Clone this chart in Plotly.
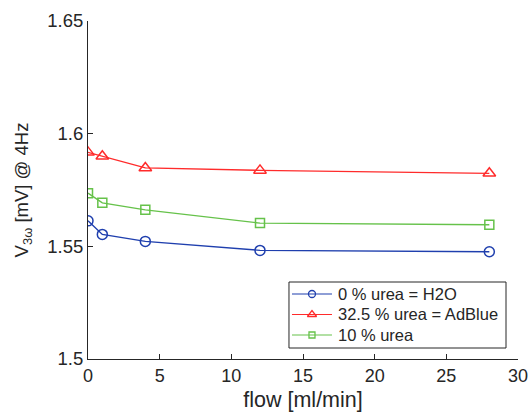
import plotly.graph_objects as go

# Flow rate [ml/min]
flow = [0, 1, 4, 12, 28]

# Third-harmonic voltage V_3ω [mV] at 4 Hz for each fluid
v_h2o = [1.5613, 1.5553, 1.5522, 1.5482, 1.5476]
v_adblue = [1.5917, 1.5900, 1.5848, 1.5837, 1.5824]
v_urea10 = [1.5736, 1.5693, 1.5662, 1.5603, 1.5596]

series_names = ["0 % urea = H2O", "32.5 % urea = AdBlue", "10 % urea"]
colors = ["#1f3fae", "#ff2b2b", "#66c24a"]
symbols = ["circle-open", "triangle-up-open", "square-open"]
values = [v_h2o, v_adblue, v_urea10]
marker_sizes = [10, 11, 9]
legend_marker_sizes = [7, 8, 6]

axis_col = "#262626"

fig = go.Figure()
for name, col, sym, vals, ms in zip(series_names, colors, symbols, values, marker_sizes):
    fig.add_trace(go.Scatter(
        x=flow, y=vals, mode="lines+markers", name=name, showlegend=False,
        line=dict(color=col, width=1.4),
        marker=dict(symbol=sym, size=ms, color=col, line=dict(width=1.5, color=col)),
    ))

# Boxed legend in the lower right of the plot area (plot-fraction coordinates)
box_x0, box_x1, box_y0, box_y1 = 0.4674, 0.9721, 0.0325, 0.2278
row_y = [0.1923, 0.1317, 0.0710]
line_x0, line_x1, glyph_x, text_x = 0.4744, 0.5674, 0.5209, 0.5767

fig.add_shape(type="rect", xref="paper", yref="paper",
              x0=box_x0, x1=box_x1, y0=box_y0, y1=box_y1,
              line=dict(color=axis_col, width=1), fillcolor="white", layer="below")
for name, col, sym, ly, lms in zip(series_names, colors, symbols, row_y, legend_marker_sizes):
    fig.add_shape(type="line", xref="paper", yref="paper",
                  x0=line_x0, x1=line_x1, y0=ly, y1=ly,
                  line=dict(color=col, width=1.2), layer="below")
    fig.add_trace(go.Scatter(
        x=[glyph_x], y=[ly], xaxis="x2", yaxis="y2", mode="markers", showlegend=False,
        hoverinfo="skip", cliponaxis=False,
        marker=dict(symbol=sym, size=lms, color=col, line=dict(width=1.3, color=col)),
    ))
    fig.add_annotation(x=text_x, y=ly, xref="paper", yref="paper", text=name,
                       showarrow=False, xanchor="left", yanchor="middle",
                       font=dict(size=16.5, color=axis_col))

fig.update_layout(
    width=531, height=414,
    paper_bgcolor="white", plot_bgcolor="white",
    showlegend=False,
    margin=dict(l=88, r=13, t=21, b=55),
    font=dict(family="Liberation Sans, Arial, sans-serif", color=axis_col, size=17),
    xaxis=dict(
        range=[0, 30], tickvals=[0, 5, 10, 15, 20, 25, 30], automargin=False,
        showgrid=False, zeroline=False, showline=True, linecolor=axis_col, linewidth=1,
        ticks="inside", ticklen=5, tickcolor=axis_col,
        tickfont=dict(size=18, color=axis_col),
        title=dict(text="flow [ml/min]", font=dict(size=21.5, color=axis_col), standoff=7),
    ),
    yaxis=dict(
        range=[1.5, 1.65], tickvals=[1.5, 1.55, 1.6, 1.65], ticktext=["1.5", "1.55", "1.6", "1.65"],
        automargin=False,
        showgrid=False, zeroline=False, showline=True, linecolor=axis_col, linewidth=1,
        ticks="inside", ticklen=5, tickcolor=axis_col,
        tickfont=dict(size=18.5, color=axis_col),
        title=dict(text="V<sub>3ω</sub> [mV] @ 4Hz", font=dict(size=18.5, color=axis_col), standoff=13),
    ),
    xaxis2=dict(overlaying="x", range=[0, 1], visible=False, fixedrange=True, automargin=False),
    yaxis2=dict(overlaying="y", range=[0, 1], visible=False, fixedrange=True, automargin=False),
)

fig.write_html("out.html")
